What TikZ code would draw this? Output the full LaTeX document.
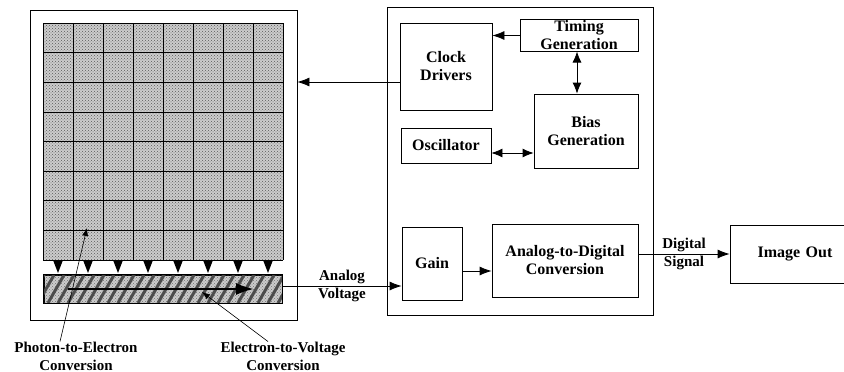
\documentclass[tikz,border=0pt]{standalone}
\usepackage{fontspec}
\setmainfont{Liberation Serif}
\usetikzlibrary{arrows.meta, patterns, positioning}

\tikzset{
  blk/.style={draw, thick, inner sep=1pt, align=center,
    font=\bfseries\fontsize{16}{18}\selectfont},
  lbl/.style={align=center, inner sep=0pt,
    font=\bfseries\fontsize{15}{18}\selectfont},
  sig/.style={thick, -{Latex[length=12pt, width=9pt]}},
  sigboth/.style={thick, {Latex[length=11pt, width=9pt]}-{Latex[length=11pt, width=9pt]}},
  ptr/.style={semithick, -{Latex[length=8pt, width=6pt]}},
}

\begin{document}
\begin{tikzpicture}[x=1pt, y=-1pt]
  \useasboundingbox (0,0) rectangle (844,372);

  % --- 1. 画素アレイの基準 ---
  % gx, gy: 左上, cw, ch: セルの幅と高さ
  \def\gx{43}
  \def\gy{23}
  \def\cw{30}
  \def\ch{29.625}

  % --- 2. 外枠とブロック ---
  \node[draw, thick, inner sep=0pt, minimum width=267pt, minimum height=310pt] (sensor) at (163.5,165) {};
  \node[draw, thick, inner sep=0pt, minimum width=266pt, minimum height=308pt] (ctrl) at (520,161) {};

  \node[blk, minimum width=92pt,  minimum height=87pt] (clkdrv) at (446,66.5)  {Clock\\Drivers};
  \node[blk, minimum width=118pt, minimum height=27pt] (timing) at (579,35.5)  {Timing\\Generation};
  \node[blk, minimum width=104pt, minimum height=74pt] (bias)   at (586,131)   {Bias\\Generation};
  \node[blk, minimum width=90pt,  minimum height=35pt] (osc)    at (446,145.5) {Oscillator};
  \node[blk, minimum width=60pt,  minimum height=73pt] (gain)   at (432,263.5) {Gain};
  \node[blk, minimum width=146pt, minimum height=73pt] (adc)    at (565,260.5) {Analog-to-Digital\\Conversion};
  \node[blk, minimum width=130pt, minimum height=58pt, text width=110pt] (imgout) at (795,254) {Image Out};

  % --- 3. 画素アレイ（セルと格子） ---
  \fill[black!20, postaction={pattern=crosshatch dots, pattern color=black!65}]
    (\gx,\gy) rectangle ({\gx+8*\cw},{\gy+8*\ch});
  \foreach \i in {0,...,8} {
    \draw[semithick] ({\gx+\cw*\i},\gy) -- ({\gx+\cw*\i},{\gy+8*\ch});
    \draw[semithick] (\gx,{\gy+\ch*\i}) -- ({\gx+8*\cw},{\gy+\ch*\i});
  }
  % 各列の転送（黒三角）
  \foreach \i in {0,...,7}
    \fill ({\gx+15+\cw*\i-5},260) -- ({\gx+15+\cw*\i+5},260) -- ({\gx+15+\cw*\i},273) -- cycle;

  % --- 4. 水平転送レジスタ（斜線） ---
  \node[draw, thick, inner sep=0pt, minimum width=238pt, minimum height=28pt,
        fill=black!20, postaction={pattern=crosshatch dots, pattern color=black!55}] (shiftreg) at (163,289) {};
  \begin{scope}
    \clip (shiftreg.south west) rectangle (shiftreg.north east);
    \foreach \k in {0,...,26}
      \draw[line width=3pt, black!70] ({28+10*\k},303) -- ++(16,-28);
  \end{scope}
  \draw[thick] (shiftreg.south west) rectangle (shiftreg.north east);

  \coordinate (xfer0) at (68,289);
  \coordinate (xfer1) at (254,289);
  \draw[line width=2.5pt, -{Latex[length=18pt, width=12pt]}] (xfer0) -- (xfer1);

  % --- 5. 注釈 ---
  \node[lbl] (pelbl) at (76,356)  {Photon-to-Electron\\Conversion};
  \node[lbl] (evlbl) at (283,356) {Electron-to-Voltage\\Conversion};
  \coordinate (petip) at (87,228);
  \coordinate (evtip) at (202,292);
  \draw[ptr] ([xshift=-16pt]pelbl.north) -- (petip);
  \draw[ptr] ([xshift=-15pt]evlbl.north) -- (evtip);

  % --- 6. 信号線 ---
  \coordinate (clkrow)  at (0,82);
  \coordinate (oscrow)  at (0,153);
  \coordinate (biascol) at (577,0);
  \coordinate (anarow)  at (0,286);
  \coordinate (gainrow) at (0,271);

  \draw[sig] (clkdrv.west |- clkrow) -- (sensor.east |- clkrow);
  \draw[sig] (timing.west) -- (clkdrv.east |- timing.west);
  \draw[sigboth] (timing.south -| biascol) -- (bias.north -| biascol);
  \draw[sigboth] (osc.east |- oscrow) -- (bias.west |- oscrow);
  \draw[sig] (shiftreg.east |- anarow) -- (gain.west |- anarow)
    node[lbl, midway] (analab) {Analog\\Voltage};
  \draw[sig] (gain.east |- gainrow) -- (adc.west |- gainrow);
  \draw[sig] (adc.east |- imgout.west) -- (imgout.west)
    node[lbl, midway] (diglab) {Digital\\Signal};

\end{tikzpicture}
\end{document}
